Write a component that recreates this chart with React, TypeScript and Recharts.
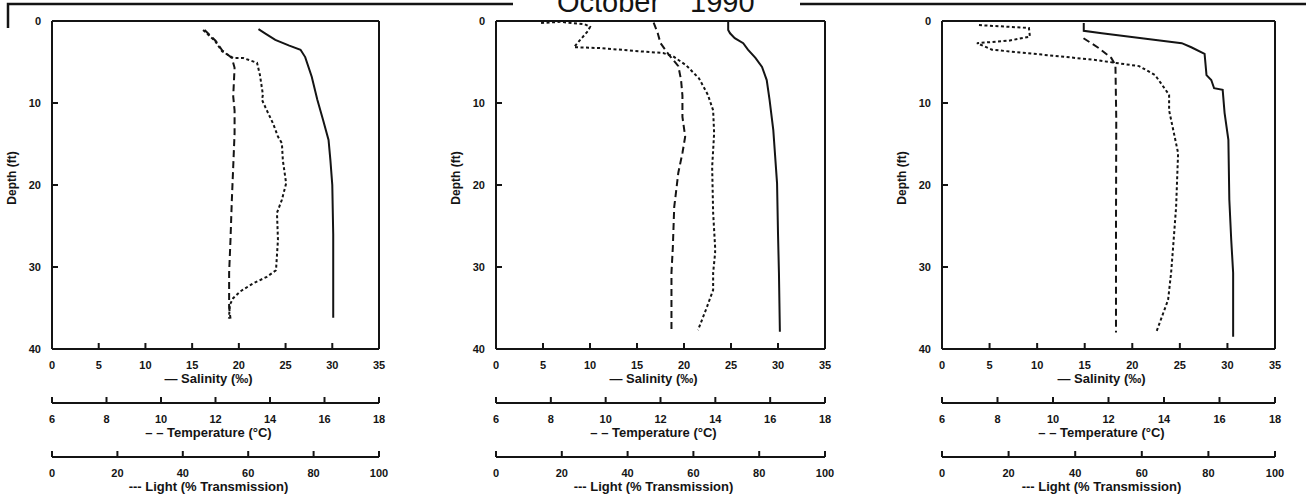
import React from "react";
import { ScatterChart, Scatter, XAxis, YAxis } from "recharts";

// [depth (ft), value]
type Pt = [number, number];

const depthTicks = [0, 10, 20, 30, 40];
const salinityTicks = [0, 5, 10, 15, 20, 25, 30, 35];
const tempTicks = [6, 8, 10, 12, 14, 16, 18];
const lightTicks = [0, 20, 40, 60, 80, 100];

// station 1
const sal1: Pt[] = [[1, 22.1], [1.5, 22.8], [2.3, 23.9], [3, 25.4], [3.5, 26.6], [4.4, 27.1], [6.8, 27.8], [9.6, 28.4], [12, 29.0], [14.5, 29.6], [17, 29.8], [20, 30.0], [26, 30.1], [30, 30.1], [36.2, 30.1]];
const temp1: Pt[] = [[1.1, 11.6], [2.4, 12.0], [3.6, 12.25], [4.5, 12.6], [5.7, 12.7], [9.2, 12.65], [10.9, 12.7], [13.7, 12.7], [17.8, 12.65], [21.8, 12.6], [26.7, 12.55], [30.7, 12.5], [34.9, 12.5], [36.3, 12.55]];
const light1: Pt[] = [[1.1, 46.2], [2.4, 49.8], [3.7, 52], [4.5, 55.4], [4.5, 58.4], [5.1, 62.7], [6.6, 63.6], [9.0, 64.5], [9.6, 64.2], [10.9, 65.7], [12.5, 67.6], [14.1, 69.1], [14.9, 70.3], [17, 70.6], [19.8, 71.6], [21.8, 70.3], [23.4, 68.8], [26.7, 69.1], [30.4, 68.5], [31.2, 65.7], [32, 61.5], [33, 57.5], [33.8, 55.4], [34.6, 54.4], [36.3, 54.1]];

// station 2
const sal2: Pt[] = [[0.1, 24.7], [1.1, 24.7], [1.5, 24.9], [2.1, 25.4], [2.7, 26.3], [3.5, 26.8], [4.5, 27.6], [5.6, 28.3], [7.2, 28.8], [9.6, 29.1], [13.3, 29.5], [19.8, 29.9], [25.9, 30.0], [30.7, 30.1], [37.9, 30.2]];
const temp2: Pt[] = [[0.2, 11.75], [1.5, 11.9], [2.7, 12.0], [4.1, 12.3], [5.5, 12.65], [7.2, 12.75], [9.1, 12.8], [11.7, 12.8], [14.1, 12.9], [16.1, 12.8], [18.5, 12.65], [22.7, 12.5], [27.6, 12.45], [30.7, 12.4], [37.9, 12.4]];
const light2: Pt[] = [[0.25, 13.7], [0.1, 19.5], [0.4, 27], [0.7, 28.6], [1.2, 28], [2.9, 24.3], [3.2, 23.7], [3.3, 31.6], [3.7, 43.8], [3.9, 50.8], [4.3, 53.8], [5.4, 57.8], [7.0, 61.7], [9.0, 64.4], [10.9, 66], [13.7, 66.3], [17.8, 65.7], [23.4, 66], [27.6, 66.6], [28.3, 66.6], [30.7, 66], [32.8, 66], [34.9, 64.1], [37.7, 61.4]];

// station 3
const sal3: Pt[] = [[0.25, 14.9], [1.2, 14.9], [1.5, 16.8], [2.1, 21.0], [2.7, 25.2], [3.2, 26.2], [4.0, 27.6], [6.6, 27.8], [7.2, 28.3], [8.2, 28.6], [8.4, 29.5], [11.2, 29.7], [14.5, 30.1], [21.8, 30.2], [26.7, 30.4], [30.7, 30.6], [38.5, 30.6]];
const temp3: Pt[] = [[2.1, 11.1], [3.3, 11.65], [4.5, 12.1], [5.4, 12.25], [12, 12.28], [25, 12.27], [38, 12.27]];
const light3: Pt[] = [[0.5, 11.1], [0.85, 26.1], [1.9, 26.4], [2.4, 20.1], [2.7, 10.5], [3.5, 15], [4.1, 30], [4.7, 45], [5.1, 52], [5.5, 59.2], [6.6, 64], [9.0, 68.2], [10.9, 68.2], [16.1, 70.9], [22.7, 70.3], [27.6, 69.4], [30.7, 68.8], [34.0, 67.9], [38.0, 64.3]];

const INK = "#141414";
const FONT = "'Liberation Sans', Arial, sans-serif";
const TICK_LEN = 6;

const toPts = (rows: Pt[]) => rows.map(([d, v]) => ({ d, v }));
const noDot = () => <g />;
const frame = { stroke: INK, strokeWidth: 2 };

const bottomTick = (withLabel: boolean) => (p: any) => (
  <g>
    <line x1={p.x} y1={p.y} x2={p.x} y2={p.y - TICK_LEN} stroke={INK} strokeWidth={2} />
    {withLabel && (
      <text x={p.x} y={p.y + 20} textAnchor="middle" fontSize={11} fontWeight="bold" fontFamily={FONT} fill={INK}>
        {p.payload.value}
      </text>
    )}
  </g>
);

const topTick = (p: any) => (
  <line x1={p.x} y1={p.y} x2={p.x} y2={p.y + TICK_LEN} stroke={INK} strokeWidth={2} />
);

const leftTick = (p: any) => (
  <g>
    <line x1={p.x} y1={p.y} x2={p.x + TICK_LEN} y2={p.y} stroke={INK} strokeWidth={2} />
    <text x={p.x - 11} y={p.y + 4} textAnchor="end" fontSize={11} fontWeight="bold" fontFamily={FONT} fill={INK}>
      {p.payload.value}
    </text>
  </g>
);

const rightTick = (p: any) => (
  <line x1={p.x} y1={p.y} x2={p.x - TICK_LEN} y2={p.y} stroke={INK} strokeWidth={2} />
);

const axisTitle = (text: string) => (props: any) => {
  const vb = props.viewBox || { x: 0, y: 0, width: 0, height: 0 };
  return (
    <text x={vb.x + vb.width / 2 - 7} y={vb.y + 34} textAnchor="middle" fontSize={13} fontWeight="bold" fontFamily={FONT} fill={INK}>
      {text}
    </text>
  );
};

const depthTitle = (props: any) => {
  const vb = props.viewBox || { x: 0, y: 0, width: 52, height: 0 };
  const cx = vb.x + vb.width - 36;
  const cy = vb.y + vb.height / 2 - 7;
  return (
    <text x={cx} y={cy} transform={`rotate(-90 ${cx} ${cy})`} textAnchor="middle" fontSize={12} fontWeight="bold" fontFamily={FONT} fill={INK}>
      Depth (ft)
    </text>
  );
};

interface PanelProps {
  left: number;
  plotW: number;
  sal: Pt[];
  temp: Pt[];
  light: Pt[];
}

// bottom axes stack in id order: a_sal, b_temp, c_light
function Panel({ left, plotW, sal, temp, light }: PanelProps) {
  const width = 52 + plotW + 2 + 20;
  return (
    <div style={{ position: "absolute", left, top: 0 }}>
      <ScatterChart width={width} height={497} margin={{ top: 20, right: 20, bottom: 0, left: 0 }}>
        <XAxis xAxisId="top" orientation="top" type="number" dataKey="v" domain={[0, 35]} ticks={salinityTicks}
          height={1} axisLine={frame} tickLine={false} tickSize={0} tickMargin={0} interval={0} tick={topTick} />
        <XAxis xAxisId="a_sal" type="number" dataKey="v" domain={[0, 35]} ticks={salinityTicks}
          height={54} axisLine={frame} tickLine={false} tickSize={0} tickMargin={0} interval={0}
          tick={bottomTick(true)} label={axisTitle("— Salinity (‰)")} />
        <XAxis xAxisId="b_temp" type="number" dataKey="v" domain={[6, 18]} ticks={tempTicks}
          height={54} axisLine={frame} tickLine={false} tickSize={0} tickMargin={0} interval={0}
          tick={bottomTick(true)} label={axisTitle("– – Temperature (°C)")} />
        <XAxis xAxisId="c_light" type="number" dataKey="v" domain={[0, 100]} ticks={lightTicks}
          height={40} axisLine={frame} tickLine={false} tickSize={0} tickMargin={0} interval={0}
          tick={bottomTick(true)} label={axisTitle("--- Light (% Transmission)")} />
        <YAxis yAxisId="depth" type="number" dataKey="d" domain={[0, 40]} ticks={depthTicks} reversed
          width={52} axisLine={frame} tickLine={false} tickSize={0} tickMargin={0} interval={0}
          tick={leftTick} label={depthTitle} />
        <YAxis yAxisId="depthR" orientation="right" type="number" dataKey="d" domain={[0, 40]} ticks={depthTicks} reversed
          width={2} axisLine={frame} tickLine={false} tickSize={0} tickMargin={0} interval={0} tick={rightTick} />
        <Scatter name="Salinity" xAxisId="a_sal" yAxisId="depth" data={toPts(sal)} fill={INK} shape={noDot}
          line={{ stroke: INK, strokeWidth: 2 }} isAnimationActive={false} />
        <Scatter name="Temperature" xAxisId="b_temp" yAxisId="depth" data={toPts(temp)} fill={INK} shape={noDot}
          line={{ stroke: INK, strokeWidth: 2, strokeDasharray: "7 4" }} isAnimationActive={false} />
        <Scatter name="Light" xAxisId="c_light" yAxisId="depth" data={toPts(light)} fill={INK} shape={noDot}
          line={{ stroke: INK, strokeWidth: 2, strokeDasharray: "3 2.5" }} isAnimationActive={false} />
      </ScatterChart>
    </div>
  );
}

export default function App() {
  return (
    <div style={{ position: "absolute", left: 0, top: 0, width: 1306, height: 497, background: "#fff", overflow: "hidden" }}>
      <svg width={1306} height={30} style={{ position: "absolute", left: 0, top: 0 }}>
        <path d="M8,28 V4 H513" fill="none" stroke={INK} strokeWidth={2.5} />
        <path d="M800,4 H1306" fill="none" stroke={INK} strokeWidth={2.5} />
        <text y={11.5} fontSize={29} fontFamily={FONT} fill={INK}>
          <tspan x={557}>October</tspan>
          <tspan x={690}>1990</tspan>
        </text>
      </svg>
      <Panel left={0} plotW={327} sal={sal1} temp={temp1} light={light1} />
      <Panel left={444} plotW={329} sal={sal2} temp={temp2} light={light2} />
      <Panel left={890} plotW={333} sal={sal3} temp={temp3} light={light3} />
    </div>
  );
}
